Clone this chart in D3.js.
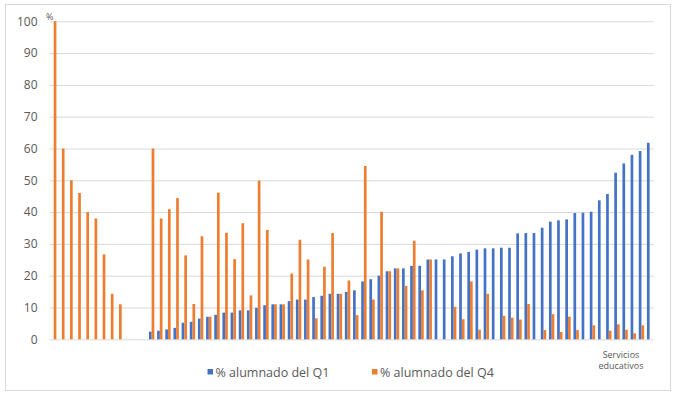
<!DOCTYPE html>
<html>
<head>
<meta charset="utf-8">
<script src="https://cdn.jsdelivr.net/npm/d3@7"></script>
<style>
  body { margin: 0; background: #fff; }
  text { font-family: "Open Sans", "Liberation Sans", sans-serif; fill: #595959; }
</style>
</head>
<body>
<svg id="chart" width="678" height="399"></svg>
<script>
// values, one per servicio educativo (sorted by Q1)
let q1 = [0, 0, 0, 0, 0, 0, 0, 0, 0, 0, 0, 0,
  2.4, 2.7, 3.1, 3.6, 5.2, 5.5, 6.5, 7.1, 7.7, 8.4, 8.4, 9.1, 9.1, 9.9, 10.7,
  11.0, 11.0, 12.0, 12.5, 12.5, 13.3, 13.7, 14.3, 14.3, 14.9, 15.4, 18.2, 18.9,
  20.0, 21.4, 22.3, 22.3, 23.1, 23.1, 25.1, 25.1, 25.1, 26.1, 27.0, 27.5, 28.2,
  28.6, 28.6, 28.8, 28.8, 33.3, 33.4, 33.4, 35.1, 37.0, 37.4, 37.7, 39.7, 39.8,
  40.1, 43.7, 45.7, 52.4, 55.3, 58.0, 59.2, 61.8];
let q4 = [100, 60, 50, 46, 40, 38, 26.7, 14.3, 11.0, 0, 0, 0,
  60, 38, 40.9, 44.4, 26.4, 11.1, 32.4, 7.1, 46.1, 33.5, 25.2, 36.5, 13.8, 49.9, 34.4,
  11.0, 11.0, 20.7, 31.3, 25.1, 6.6, 22.8, 33.4, 14.3, 18.5, 7.6, 54.5, 12.5,
  40.1, 21.4, 22.3, 16.8, 31.0, 15.4, 25.1, 0, 0, 10.2, 6.3, 18.2, 3.0,
  14.3, 0, 7.4, 6.8, 6.2, 11.1, 0, 2.9, 7.9, 2.3, 7.1, 2.9, 0,
  4.4, 0, 2.7, 4.7, 3.0, 1.9, 4.4, 0];
let categories = q1.map((d, i) => 'S' + (i + 1));
let seriesNames = ['% alumnado del Q1', '% alumnado del Q4'];
let colors = ['#4472C4', '#ED7D31'];
let yTicks = d3.range(0, 101, 10);
let xTitle = ['Servicios', 'educativos'];

let svg = d3.select('#chart');

// chart frame
svg.append('rect')
  .attr('x', 5.5).attr('y', 4.5)
  .attr('width', 665).attr('height', 386)
  .attr('fill', '#fff')
  .attr('stroke', '#d9d9d9');

let x = d3.scaleBand()
  .domain(categories)
  .range([49.6, 653.7])
  .paddingInner(0.34)
  .paddingOuter(0.17);
let xs = d3.scaleBand().domain([0, 1]).range([0, x.bandwidth()]);
let y = d3.scaleLinear().domain([0, 100]).range([339.3, 21.3]);

// gridlines + tick labels
let yAxis = svg.append('g')
  .attr('transform', 'translate(49.6,0)')
  .call(d3.axisLeft(y).tickValues(yTicks).tickSize(-604).tickPadding(12));
yAxis.select('.domain').remove();
yAxis.selectAll('line').attr('stroke', '#d9d9d9');
yAxis.selectAll('text')
  .style('font-size', '12px')
  .attr('fill', '#595959');

// bars
let rows = categories.map((c, i) => ({ c: c, v: [q1[i], q4[i]] }));
svg.append('g').selectAll('g')
  .data(rows)
  .join('g')
  .attr('transform', d => 'translate(' + x(d.c) + ',0)')
  .selectAll('rect')
  .data(d => d.v.map((v, k) => ({ k: k, v: v })))
  .join('rect')
  .attr('x', d => xs(d.k))
  .attr('width', xs.bandwidth())
  .attr('y', d => y(d.v))
  .attr('height', d => y(0) - y(d.v))
  .attr('fill', d => colors[d.k]);

// "%" unit
svg.append('text')
  .attr('x', 46).attr('y', 20)
  .style('font-size', '9px')
  .text('%');

// axis title, bottom right (two lines)
svg.append('g').selectAll('text')
  .data(xTitle)
  .join('text')
  .attr('x', 621)
  .attr('y', (d, i) => 357.5 + i * 11.5)
  .attr('text-anchor', 'middle')
  .style('font-size', '9px')
  .text(d => d);

// legend
let legendX = [207.5, 372];
let lg = svg.append('g').selectAll('g')
  .data(seriesNames)
  .join('g')
  .attr('transform', (d, i) => 'translate(' + legendX[i] + ',368)');
lg.append('rect')
  .attr('width', 5.5).attr('height', 5.5)
  .attr('y', 1)
  .attr('fill', (d, i) => colors[i]);
lg.append('text')
  .attr('x', 8).attr('y', 8.5)
  .style('font-size', '12.5px')
  .text(d => d);
</script>
</body>
</html>
